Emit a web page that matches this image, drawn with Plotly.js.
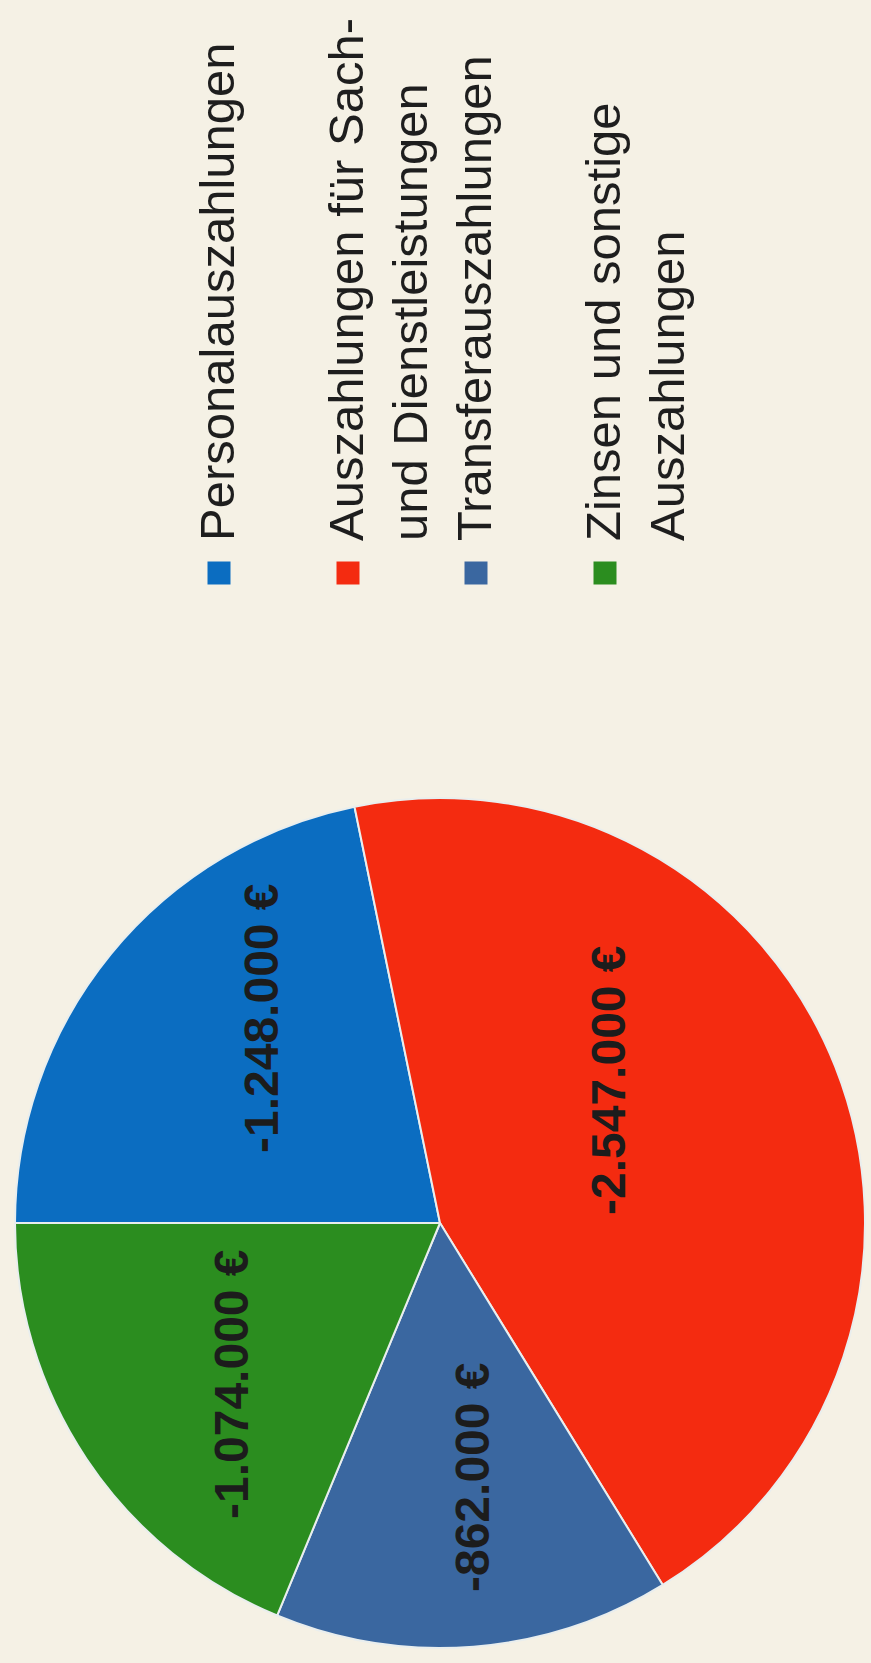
<!DOCTYPE html>
<html>
<head>
<meta charset="utf-8">
<script src="https://cdn.plot.ly/plotly-3.0.1.min.js"></script>
<style>
html, body { margin:0; padding:0; width:871px; height:1663px; overflow:hidden; background:#f5f1e5; }
#chart { position:absolute; left:0; top:0; width:1663px; height:871px;
         transform-origin:0 0; transform:translate(0px,1663px) rotate(-90deg); }
</style>
</head>
<body>
<div id="chart"></div>
<script>
// ---- data ----
const categories = ["Personalauszahlungen", "Auszahlungen für Sach- und Dienstleistungen", "Transferauszahlungen", "Zinsen und sonstige Auszahlungen"];
const legendLabels = ["Personalauszahlungen", "Auszahlungen für Sach-<br>und Dienstleistungen", "Transferauszahlungen", "Zinsen und sonstige<br>Auszahlungen"];
const amounts = [-1248000, -2547000, -862000, -1074000];
const colors = ["#0b6dc1", "#f42b10", "#3a67a0", "#2b8d1f"];

// ---- layout helpers (positions in the unrotated 1663x871 frame) ----
const W = 1663, H = 871;
const labelPos = [[645, 262], [583, 608], [186, 472], [279, 231]];
const legendSquareX = 1090, legendTextX = 1120;
const legendRowY = [219, 348, 476, 605];

function fmt(v) {
  const s = Math.abs(v).toString().replace(/\B(?=(\d{3})+(?!\d))/g, '.');
  return (v < 0 ? '-' : '') + s + ' €';
}

const trace = {
  type: 'pie',
  labels: categories,
  values: amounts.map(Math.abs),
  sort: false,
  direction: 'clockwise',
  rotation: 0,
  textinfo: 'none',
  hoverinfo: 'skip',
  showlegend: false,
  marker: { colors: colors, line: { color: '#e9eeee', width: 2 } },
  domain: { x: [15 / W, 865 / W], y: [1 - 865 / H, 1 - 15 / H] }
};

const annotations = [];
const shapes = [];
amounts.forEach((v, i) => {
  annotations.push({
    xref: 'paper', yref: 'paper',
    x: labelPos[i][0] / W, y: 1 - labelPos[i][1] / H,
    xanchor: 'center', yanchor: 'middle',
    text: fmt(v), showarrow: false,
    font: { family: 'Liberation Sans, Arial, sans-serif', size: 48, color: '#1c1c1c', weight: 'bold' }
  });
  annotations.push({
    xref: 'paper', yref: 'paper',
    x: legendTextX / W, y: 1 - (legendRowY[i] - 31) / H,
    xanchor: 'left', yanchor: 'top', align: 'left',
    text: legendLabels[i], showarrow: false,
    font: { family: 'Liberation Sans, Arial, sans-serif', size: 49, color: '#1e1e1e' }
  });
  shapes.push({
    type: 'rect', xref: 'paper', yref: 'paper',
    xsizemode: 'pixel', ysizemode: 'pixel',
    xanchor: legendSquareX / W, yanchor: 1 - legendRowY[i] / H,
    x0: -11.5, x1: 11.5, y0: -11.5, y1: 11.5,
    fillcolor: colors[i], line: { width: 0 }
  });
});

const layout = {
  width: W, height: H,
  margin: { l: 0, r: 0, t: 0, b: 0 },
  paper_bgcolor: '#f5f1e5',
  plot_bgcolor: '#f5f1e5',
  showlegend: false,
  annotations: annotations,
  shapes: shapes
};

Plotly.newPlot('chart', [trace], layout, { staticPlot: true, displayModeBar: false });
</script>
</body>
</html>
